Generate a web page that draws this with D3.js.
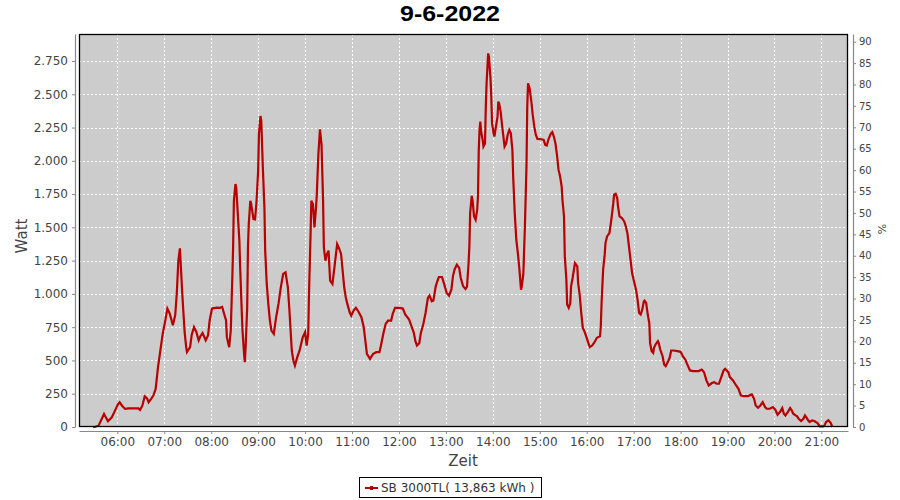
<!DOCTYPE html>
<html>
<head>
<meta charset="utf-8">
<script src="https://cdn.jsdelivr.net/npm/d3@7/dist/d3.min.js"></script>
<style>
  html, body { margin: 0; padding: 0; background: #fff; }
  svg { display: block; }
</style>
</head>
<body>
<svg id="chart" width="900" height="500"></svg>
<script>
// ---------- data ----------
const chartTitle = "9-6-2022";
const seriesName = "SB 3000TL( 13,863 kWh )";
const times = [
"05:29","05:31","05:36","05:43","05:48","05:53","05:57","06:01","06:03","06:06","06:10","06:14","06:18","06:22","06:27","06:29","06:32","06:35","06:38","06:40","06:43","06:46","06:49","06:52","06:55","06:58",
"07:01","07:04","07:07","07:11","07:14","07:16","07:18","07:20","07:21","07:23","07:26","07:28","07:29","07:33","07:35","07:38","07:41","07:44","07:46","07:49","07:53","07:56","07:58",
"08:01","08:07","08:11","08:14","08:16","08:19","08:20","08:23","08:25","08:27","08:28","08:29","08:31","08:32","08:34","08:36","08:37","08:39","08:40","08:42","08:43","08:44","08:46","08:47","08:48","08:50","08:51","08:54","08:56","08:58",
"09:00","09:01","09:03","09:04","09:06","09:08","09:09","09:11","09:13","09:15","09:17","09:20","09:23","09:26","09:29","09:32","09:35","09:38","09:40","09:43","09:45","09:47","09:50","09:53","09:57",
"10:00","10:02","10:04","10:05","10:07","10:08","10:10","10:12","10:14","10:15","10:17","10:19","10:21","10:23","10:24","10:26","10:28","10:30","10:32","10:35","10:37","10:39","10:41","10:43","10:46","10:48","10:50","10:52","10:54","10:57","10:59",
"11:02","11:05","11:08","11:12","11:15","11:17","11:19","11:23","11:27","11:31","11:35","11:37","11:40","11:43","11:46","11:50","11:52","11:55",
"12:01","12:05","12:08","12:13","12:16","12:19","12:21","12:23","12:26","12:28","12:31","12:34","12:37","12:39","12:42","12:44","12:47","12:49","12:51","12:55","12:58",
"13:01","13:04","13:07","13:09","13:11","13:14","13:17","13:19","13:22","13:25","13:27","13:29","13:30","13:31","13:33","13:34","13:36","13:38","13:40","13:41","13:42","13:43","13:44","13:45","13:47","13:48","13:50","13:51","13:52","13:54","13:55","13:57","13:58","13:59",
"14:01","14:02","14:04","14:06","14:07","14:08","14:10","14:12","14:14","14:15","14:17","14:19","14:21","14:23","14:25","14:26","14:28","14:30","14:32","14:34","14:36","14:37","14:39","14:41","14:43","14:44","14:45","14:47","14:49","14:51","14:53","14:55","14:57",
"15:02","15:05","15:07","15:09","15:11","15:14","15:16","15:18","15:20","15:22","15:24","15:26","15:28","15:29","15:31","15:32","15:34","15:35","15:37","15:39","15:40","15:42","15:44","15:45","15:48","15:49","15:51","15:53","15:55","15:57",
"16:00","16:02","16:04","16:07","16:10","16:13","16:17","16:18","16:19","16:21","16:23","16:24","16:26","16:29","16:30","16:32","16:34","16:35","16:37","16:39","16:40","16:42","16:45","16:48","16:50","16:52","16:54","16:56","16:58",
"17:00","17:03","17:05","17:07","17:09","17:11","17:13","17:14","17:16","17:18","17:20","17:21","17:23","17:25","17:26","17:28","17:31","17:32","17:34","17:37","17:39","17:41","17:43","17:46","17:48","17:51","17:56",
"18:00","18:03","18:06","18:08","18:12","18:16","18:23","18:27","18:30","18:33","18:36","18:40","18:43","18:46","18:49","18:52","18:55","18:57",
"19:01","19:03","19:07","19:11","19:14","19:17","19:20","19:26","19:31","19:34","19:36","19:39","19:42","19:45","19:48","19:50","19:54","19:58",
"20:01","20:04","20:07","20:10","20:12","20:14","20:17","20:20","20:22","20:24","20:27","20:29","20:31","20:34","20:37","20:39","20:41","20:43","20:45","20:48","20:51","20:55","20:58",
"21:02","21:04","21:06","21:09","21:12","21:14"
];
const watts = [
0,0,10,98,43,73,123,173,186,160,136,140,140,140,140,128,160,231,215,186,210,236,286,450,575,700,
790,890,852,764,840,1003,1250,1342,1230,1003,714,600,563,600,689,751,714,651,680,706,651,690,800,
890,897,895,902,860,800,675,600,725,1125,1350,1700,1825,1800,1600,1400,1200,875,725,550,487,600,900,1350,1525,1700,1680,1562,1560,1700,
1925,2200,2337,2300,1950,1650,1325,1075,925,800,725,700,825,925,1050,1150,1162,1050,875,575,500,462,525,575,675,
712,612,700,1000,1450,1700,1675,1500,1650,1750,2050,2237,2125,1700,1350,1250,1300,1325,1100,1075,1175,1275,1375,1350,1300,1175,1050,975,925,862,837,
875,895,870,825,750,650,550,512,550,562,562,612,700,775,800,800,850,895,
895,890,845,807,757,707,645,612,630,707,770,857,970,987,945,950,1057,1095,1127,1127,1070,
1007,987,1032,1132,1182,1220,1195,1120,1057,1037,1055,1232,1357,1607,1737,1707,1582,1557,1632,1732,2082,2232,2295,2220,2157,2107,2130,2407,2582,2807,2782,2620,2482,2282,
2207,2182,2257,2332,2445,2432,2370,2257,2157,2107,2130,2195,2232,2207,2082,1882,1607,1407,1307,1182,1032,1057,1150,1507,1957,2407,2582,2545,2457,2345,2257,2195,2165,
2162,2157,2120,2115,2160,2202,2215,2182,2132,2045,1932,1882,1807,1707,1582,1282,1107,920,895,930,1057,1120,1195,1232,1207,1082,995,857,745,720,
670,632,600,612,637,670,682,757,932,1182,1295,1382,1432,1457,1495,1582,1682,1745,1752,1720,1657,1582,1570,1545,1507,1457,1357,1257,1157,
1107,1032,957,857,845,882,945,950,932,845,782,632,570,557,595,620,645,632,582,532,470,457,480,520,575,575,570,
565,530,507,478,425,420,420,432,412,350,312,330,337,325,325,375,425,437,
412,375,350,312,287,237,232,232,245,212,162,145,162,187,150,137,137,150,
130,92,112,142,100,87,112,142,125,100,87,80,62,45,62,87,70,50,37,50,45,30,5,
5,12,37,50,30,0
];
const xDomainTimes = ["05:11","21:34"];
const xTickTimes = ["06:00","07:00","08:00","09:00","10:00","11:00","12:00","13:00","14:00","15:00","16:00","17:00","18:00","19:00","20:00","21:00"];
const yTicks = [0,250,500,750,1000,1250,1500,1750,2000,2250,2500,2750];
const yMax = 2953;
const pctTicks = [0,5,10,15,20,25,30,35,40,45,50,55,60,65,70,75,80,85,90];
const pctMax = 91.8;

// ---------- setup ----------
const parse = d3.timeParse("%Y-%m-%d %H:%M");
const toDate = t => parse("2022-06-09 " + t);
const data = times.map((t, i) => ({ t: toDate(t), v: watts[i] }));

const svg = d3.select("#chart");
const L = 79, R = 848, T = 34, B = 427;

const x = d3.scaleTime().domain(xDomainTimes.map(toDate)).range([L, R]);
const y = d3.scaleLinear().domain([0, yMax]).range([B, T]);
const yPct = d3.scaleLinear().domain([0, pctMax]).range([B, T]);

const de = d3.formatLocale({ decimal: ",", thousands: ".", grouping: [3], currency: ["", "€"] });
const fmtY = de.format(",.0f");

// title
svg.append("text")
  .attr("x", 450).attr("y", 21)
  .attr("text-anchor", "middle")
  .attr("font-family", "'Liberation Sans', Arial, sans-serif")
  .attr("font-weight", "bold")
  .attr("font-size", 22)
  .attr("textLength", 100)
  .attr("lengthAdjust", "spacingAndGlyphs")
  .attr("fill", "#000")
  .text(chartTitle);

// plot background
svg.append("rect")
  .attr("x", L).attr("y", T).attr("width", R - L).attr("height", B - T)
  .attr("fill", "#cccccc");

// grid
const grid = svg.append("g").attr("stroke", "#ffffff").attr("stroke-width", 1)
  .attr("stroke-dasharray", "2,2").attr("shape-rendering", "crispEdges");
grid.selectAll("line.h").data(yTicks.filter(d => d > 0)).enter().append("line")
  .attr("x1", L).attr("x2", R)
  .attr("y1", d => Math.round(y(d)) + 0.5).attr("y2", d => Math.round(y(d)) + 0.5);
grid.selectAll("line.v").data(xTickTimes.map(toDate)).enter().append("line")
  .attr("y1", T).attr("y2", B)
  .attr("x1", d => Math.round(x(d)) + 0.5).attr("x2", d => Math.round(x(d)) + 0.5);

// series line
svg.append("path")
  .datum(data)
  .attr("fill", "none")
  .attr("stroke", "#b80000")
  .attr("stroke-width", 2.2)
  .attr("stroke-linejoin", "miter")
  .attr("d", d3.line().x(d => x(d.t)).y(d => y(d.v)));

// plot border
svg.append("rect")
  .attr("x", L + 0.5).attr("y", T + 0.5).attr("width", R - L - 1).attr("height", B - T - 1)
  .attr("fill", "none").attr("stroke", "#000").attr("stroke-width", 1.3);

function styleAxis(g, fontFamily, fontSize) {
  g.select(".domain").attr("stroke", "#888").attr("stroke-width", 1.2);
  g.selectAll(".tick line").attr("stroke", "#888");
  g.selectAll(".tick text").attr("fill", "#444")
    .attr("font-family", fontFamily).attr("font-size", fontSize);
}

// left axis
const gl = svg.append("g").attr("transform", "translate(75,0)")
  .call(d3.axisLeft(y).tickValues(yTicks).tickFormat(fmtY).tickSize(3).tickSizeOuter(0).tickPadding(4));
gl.attr("font-family", null).attr("font-size", null);
styleAxis(gl, "'DejaVu Sans', sans-serif", 12);

// right axis
const gr = svg.append("g").attr("transform", "translate(853,0)")
  .call(d3.axisRight(yPct).tickValues(pctTicks).tickFormat(d3.format("d")).tickSize(3).tickSizeOuter(0).tickPadding(3));
styleAxis(gr, "'DejaVu Sans', sans-serif", 10);

// bottom axis
const gb = svg.append("g").attr("transform", "translate(0,431)")
  .call(d3.axisBottom(x).tickValues(xTickTimes.map(toDate)).tickFormat(d3.timeFormat("%H:%M")).tickSize(3).tickSizeOuter(0).tickPadding(3));
styleAxis(gb, "'DejaVu Sans', sans-serif", 12);

// axis titles
svg.append("text")
  .attr("transform", "translate(27,236) rotate(-90)")
  .attr("text-anchor", "middle")
  .attr("font-family", "'DejaVu Sans', sans-serif").attr("font-size", 15)
  .attr("fill", "#444").text("Watt");
svg.append("text")
  .attr("x", 463).attr("y", 466)
  .attr("text-anchor", "middle")
  .attr("font-family", "'DejaVu Sans', sans-serif").attr("font-size", 15)
  .attr("fill", "#444").text("Zeit");
svg.append("text")
  .attr("transform", "translate(886,229) rotate(-90)")
  .attr("text-anchor", "middle")
  .attr("font-family", "'DejaVu Sans', sans-serif").attr("font-size", 11)
  .attr("fill", "#444").text("%");

// legend
const lg = svg.append("g");
lg.append("rect").attr("x", 359.5).attr("y", 477.5).attr("width", 182).attr("height", 20)
  .attr("fill", "#fff").attr("stroke", "#000").attr("stroke-width", 1);
lg.append("line").attr("x1", 365).attr("x2", 378).attr("y1", 488).attr("y2", 488)
  .attr("stroke", "#b80000").attr("stroke-width", 2);
lg.append("rect").attr("x", 370).attr("y", 486).attr("width", 3).attr("height", 4).attr("fill", "#b80000");
lg.append("text").attr("x", 381).attr("y", 492)
  .attr("font-family", "'DejaVu Sans', sans-serif").attr("font-size", 12)
  .attr("fill", "#333").text(seriesName);
</script>
</body>
</html>
